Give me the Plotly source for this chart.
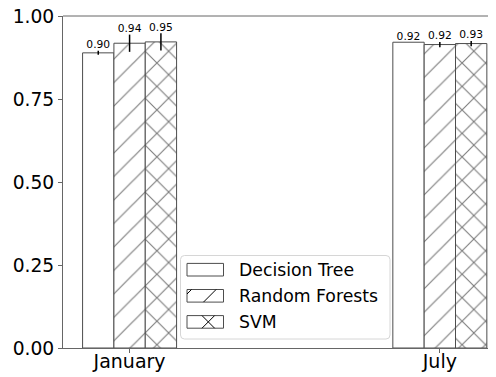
import plotly.graph_objects as go

months = ["January", "July"]
series = ["Decision Tree", "Random Forests", "SVM"]
dt_vals = [0.889, 0.921]
rf_vals = [0.918, 0.914]
svm_vals = [0.922, 0.917]
dt_err = [0.006, 0.0]
rf_err = [0.026, 0.008]
svm_err = [0.026, 0.008]
dt_labels = ["0.90", "0.92"]
rf_labels = ["0.94", "0.92"]
svm_labels = ["0.95", "0.93"]
yticks = [0.0, 0.25, 0.5, 0.75, 1.0]

FONT = "DejaVu Sans"
EDGE = "#4d4d4d"
HATCH = "#000000"
BW = 0.101
pos = list(range(len(months)))

# page body has an 8px margin, so the figure is placed at (8, 8)
OFF = 8
W, H = 496 - OFF, 377 - OFF
ML, MR, MT, MB = 63 - OFF, 0, 16 - OFF, 29
PW, PH = W - ML - MR, H - MT - MB


def px(x):
    return (x - OFF - ML) / PW


def py(y):
    return (H + OFF - MB - y) / PH


vals = [dt_vals, rf_vals, svm_vals]
errs = [dt_err, rf_err, svm_err]
labels = [dt_labels, rf_labels, svm_labels]
patterns = [
    dict(shape=""),
    dict(shape="/", size=16.6, solidity=0.072, fgcolor=HATCH, bgcolor="white"),
    dict(shape="x", size=16.6, solidity=0.135, fgcolor=HATCH, bgcolor="white"),
]

fig = go.Figure()
for i, name in enumerate(series):
    fig.add_trace(go.Bar(
        x=pos, y=vals[i], name=name, width=BW, showlegend=False,
        marker=dict(color="white", line=dict(color=EDGE, width=1), pattern=patterns[i]),
        error_y=dict(type="data", array=errs[i], color="black", thickness=1.5, width=0),
    ))
for i, name in enumerate(series):
    off = (i - 1) * BW
    fig.add_trace(go.Scatter(
        x=[p + off for p in pos],
        y=[v + e for v, e in zip(vals[i], errs[i])],
        text=labels[i], mode="text", textposition="top center",
        textfont=dict(family=FONT, size=10.7, color="black"),
        showlegend=False, hoverinfo="skip", cliponaxis=False,
    ))

# custom legend (matplotlib-like)
shapes = [dict(type="line", xref="paper", yref="paper", x0=0, x1=1, y0=1, y1=1,
               line=dict(color="#666", width=1))]
bx0, bx1, by0, by1, r = 180.5, 390, 255.5, 339, 4
path = (f"M{px(bx0 + r)},{py(by0)} L{px(bx1 - r)},{py(by0)} Q{px(bx1)},{py(by0)} {px(bx1)},{py(by0 + r)} "
        f"L{px(bx1)},{py(by1 - r)} Q{px(bx1)},{py(by1)} {px(bx1 - r)},{py(by1)} "
        f"L{px(bx0 + r)},{py(by1)} Q{px(bx0)},{py(by1)} {px(bx0)},{py(by1 - r)} "
        f"L{px(bx0)},{py(by0 + r)} Q{px(bx0)},{py(by0)} {px(bx0 + r)},{py(by0)} Z")
shapes.append(dict(type="path", xref="paper", yref="paper", path=path,
                   fillcolor="rgba(255,255,255,0.9)", line=dict(color="#d6d6d6", width=1)))
annotations = []
row_c = [269.7, 295.8, 321.9]
pw0, pw1, ph = 187, 223.5, 12.6
for i, name in enumerate(series):
    yc = row_c[i]
    t, b = yc - ph / 2, yc + ph / 2
    shapes.append(dict(type="rect", xref="paper", yref="paper",
                       x0=px(pw0), x1=px(pw1), y0=py(b), y1=py(t),
                       fillcolor="white", line=dict(color=EDGE, width=1)))
    hl = dict(color=HATCH, width=1)
    if i == 1:
        shapes.append(dict(type="line", xref="paper", yref="paper",
                           x0=px(203.5), y0=py(b), x1=px(203.5 + ph), y1=py(t), line=hl))
        shapes.append(dict(type="line", xref="paper", yref="paper",
                           x0=px(pw0), y0=py(t + 4.5), x1=px(pw0 + 4.5), y1=py(t), line=hl))
    if i == 2:
        shapes.append(dict(type="line", xref="paper", yref="paper",
                           x0=px(202), y0=py(b), x1=px(202 + ph), y1=py(t), line=hl))
        shapes.append(dict(type="line", xref="paper", yref="paper",
                           x0=px(202), y0=py(t), x1=px(202 + ph), y1=py(b), line=hl))
    annotations.append(dict(xref="paper", yref="paper", x=px(236.5), y=py(yc),
                            xanchor="left", yanchor="middle", showarrow=False, text=name,
                            font=dict(family=FONT, size=17.3, color="black")))

fig.update_layout(
    width=W, height=H,
    margin=dict(l=ML, r=MR, t=MT, b=MB),
    paper_bgcolor="white", plot_bgcolor="white",
    barmode="group", bargap=0.697, bargroupgap=0,
    font=dict(family=FONT, color="black"),
    xaxis=dict(
        range=[-0.2146, 1.181], tickvals=pos, ticktext=months, automargin=False,
        showgrid=False, zeroline=False, showline=True, linecolor="#666", linewidth=1,
        ticks="outside", ticklen=4, tickcolor="#666", ticklabelstandoff=-8,
        ticklabeloverflow="allow",
        tickfont=dict(family=FONT, size=19, color="black"),
    ),
    yaxis=dict(
        range=[0, 1], tickvals=yticks, tickformat=".2f", automargin=False,
        showgrid=False, zeroline=False, showline=True, linecolor="#666", linewidth=1,
        ticks="outside", ticklen=4, tickcolor="#666", ticklabeloverflow="allow",
        tickfont=dict(family=FONT, size=18.7, color="black"),
    ),
    shapes=shapes,
    annotations=annotations,
    showlegend=False,
)

fig.write_html("out.html")
